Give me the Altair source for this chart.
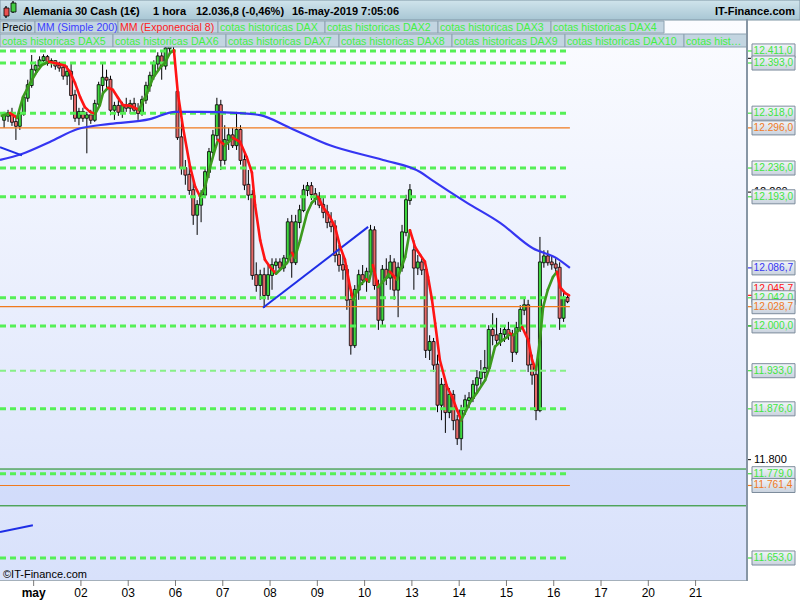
import altair as alt
import pandas as pd

# ---------------- data ----------------
# Hourly candles (12 per session), 30 Apr (partial) .. 16 May 07:00
opens = [12308, 12314, 12318, 12305, 12299, 12317, 12341, 12360,
         12383, 12389, 12397, 12402, 12393, 12396, 12389, 12386, 12374, 12380, 12345, 12311,
         12320, 12311, 12315, 12308, 12332, 12360, 12371, 12368, 12323, 12329, 12320, 12330,
         12326, 12332, 12323, 12318, 12338, 12359, 12374, 12392, 12403, 12389, 12415, 12421,
         12350, 12282, 12236, 12226, 12203, 12166, 12181, 12196, 12230, 12260, 12285, 12330,
         12248, 12278, 12285, 12270, 12293, 12248, 12211, 12196, 12076, 12061, 12076, 12046,
         12076, 12091, 12095, 12087, 12101, 12155, 12095, 12155, 12173, 12203, 12209, 12197,
         12191, 12181, 12170, 12155, 12149, 12106, 12091, 12084, 12039, 11971, 12054, 12076,
         12069, 12081, 12143, 12061, 12009, 12084, 12072, 12095, 12054, 12087, 12140, 12188,
         12113, 12087, 12095, 12084, 11964, 11976, 11942, 11882, 11912, 11871, 11897, 11859,
         11832, 11874, 11889, 11892, 11912, 11922, 11931, 11937, 11994, 11986, 11979, 11988,
         11994, 11986, 11961, 11997, 12024, 12031, 11942, 11927, 11874, 12095, 12104, 12095,
         12092, 12087, 12012, 12042]
highs = [12320, 12323, 12326, 12315, 12320, 12345, 12368, 12405,
         12395, 12403, 12406, 12405, 12400, 12397, 12395, 12392, 12389, 12393, 12353, 12326,
         12326, 12320, 12323, 12338, 12365, 12393, 12383, 12374, 12335, 12338, 12335, 12341,
         12338, 12341, 12333, 12344, 12365, 12380, 12397, 12409, 12412, 12421, 12430, 12433,
         12353, 12308, 12248, 12241, 12218, 12188, 12203, 12236, 12266, 12293, 12341, 12338,
         12300, 12296, 12296, 12320, 12300, 12263, 12233, 12203, 12095, 12084, 12087, 12091,
         12101, 12101, 12101, 12106, 12161, 12166, 12166, 12181, 12211, 12215, 12215, 12206,
         12200, 12191, 12181, 12170, 12158, 12121, 12106, 12091, 12054, 12061, 12084, 12091,
         12087, 12151, 12149, 12069, 12091, 12101, 12106, 12101, 12095, 12151, 12196, 12212,
         12128, 12106, 12101, 12091, 11986, 11982, 11957, 11922, 11919, 11907, 11904, 11867,
         11882, 11897, 11901, 11919, 11934, 11949, 11964, 12001, 12019, 12012, 11997, 12000,
         12006, 11994, 12006, 12031, 12043, 12039, 11957, 11934, 12133, 12113, 12113, 12106,
         12101, 12095, 12051, 12048]
lows = [12296, 12305, 12299, 12278, 12293, 12314, 12335, 12356,
        12375, 12383, 12392, 12389, 12386, 12383, 12380, 12368, 12360, 12338, 12305, 12300,
        12305, 12258, 12302, 12305, 12329, 12350, 12356, 12315, 12308, 12314, 12311, 12320,
        12317, 12320, 12308, 12314, 12332, 12350, 12368, 12383, 12368, 12383, 12409, 12412,
        12278, 12226, 12211, 12196, 12151, 12136, 12155, 12191, 12221, 12251, 12278, 12233,
        12241, 12263, 12266, 12263, 12241, 12203, 12188, 12069, 12051, 12039, 12027, 12039,
        12054, 12081, 12084, 12081, 12095, 12072, 12091, 12146, 12170, 12194, 12188, 12181,
        12176, 12161, 12146, 12140, 12095, 12081, 12069, 12024, 11957, 11967, 12039, 12061,
        12051, 12076, 12054, 11994, 12001, 12061, 12054, 12039, 12013, 12081, 12134, 12181,
        12054, 12076, 12076, 11952, 11949, 11931, 11871, 11859, 11840, 11862, 11844, 11822,
        11814, 11867, 11877, 11886, 11901, 11912, 11922, 11931, 11971, 11971, 11970, 11976,
        11979, 11946, 11957, 11991, 12016, 11931, 11912, 11859, 11871, 12087, 12090, 12084,
        12081, 11994, 12006, 12034]
closes = [12314, 12318, 12305, 12299, 12317, 12341, 12360, 12383,
          12389, 12397, 12402, 12393, 12396, 12389, 12386, 12374, 12380, 12345, 12311, 12320,
          12311, 12315, 12308, 12332, 12360, 12371, 12368, 12323, 12329, 12320, 12330, 12326,
          12332, 12323, 12318, 12338, 12359, 12374, 12392, 12403, 12389, 12415, 12421, 12424,
          12282, 12236, 12226, 12203, 12166, 12181, 12196, 12230, 12260, 12285, 12330, 12248,
          12278, 12285, 12270, 12293, 12248, 12211, 12196, 12076, 12061, 12076, 12046, 12076,
          12091, 12095, 12087, 12101, 12155, 12095, 12155, 12173, 12203, 12209, 12197, 12191,
          12181, 12170, 12155, 12149, 12106, 12091, 12084, 12039, 11971, 12054, 12076, 12069,
          12081, 12143, 12061, 12009, 12084, 12072, 12095, 12054, 12087, 12140, 12188, 12203,
          12087, 12095, 12084, 11964, 11976, 11942, 11882, 11912, 11871, 11897, 11859, 11832,
          11874, 11889, 11892, 11912, 11922, 11931, 11937, 11994, 11986, 11979, 11988, 11994,
          11986, 11961, 11997, 12024, 12031, 11942, 11927, 11874, 12095, 12104, 12095, 12092,
          12087, 12012, 12042, 12036.8]

BARS_PER_DAY = 12
day_labels = ["may", "02", "03", "06", "07", "08", "09", "10", "13", "14", "15", "16", "17", "20", "21"]

# Simple moving average (200) as (bar index, value)
ma200 = [(-1.04, 12248), (4.5, 12257), (11.6, 12275), (18.5, 12294), (26.9, 12302),
         (37.0, 12309), (43.4, 12320), (49.7, 12320), (59.9, 12318), (65.0, 12315),
         (72.6, 12296), (82.7, 12270), (96.2, 12248), (105.6, 12230), (108.6, 12218),
         (117.5, 12184), (125.9, 12154), (134.2, 12116), (140.3, 12101), (143.6, 12086.7)]

# Exponential moving average (8) as (bar index, value)
ema8 = [(-0.6, 12314), (1.5, 12318), (3.3, 12311), (4.8, 12342), (6.6, 12363), (8.3, 12380),
        (9.6, 12390), (11.4, 12395), (13.7, 12392), (15.5, 12389), (16.7, 12380), (18.0, 12363),
        (19.3, 12342), (20.5, 12327), (21.8, 12320), (23.1, 12317), (24.3, 12330), (25.1, 12348),
        (26.4, 12356), (27.6, 12353), (28.9, 12341), (30.2, 12330), (32.0, 12329), (33.2, 12326),
        (34.2, 12323), (36.3, 12348), (37.8, 12371), (39.6, 12386), (40.8, 12393), (42.1, 12408),
        (43.1, 12412), (44.1, 12348), (45.4, 12297), (47.2, 12238), (48.5, 12208), (49.7, 12194),
        (51.0, 12208), (52.3, 12238), (53.5, 12263), (54.3, 12278), (56.1, 12270), (58.1, 12281),
        (59.9, 12275), (61.6, 12252), (62.9, 12229), (63.7, 12181), (65.0, 12128), (66.2, 12099),
        (67.5, 12088), (69.0, 12078), (71.8, 12094), (73.1, 12109), (73.8, 12102), (75.1, 12128),
        (76.9, 12169), (78.1, 12184), (79.7, 12193), (80.9, 12178), (82.7, 12163), (84.0, 12148),
        (85.3, 12118), (86.5, 12099), (87.8, 12058), (88.6, 12039), (90.3, 12061), (91.9, 12070),
        (92.6, 12066), (93.6, 12091), (94.9, 12058), (97.2, 12073), (97.9, 12081), (99.7, 12069),
        (101.8, 12103), (103.0, 12143), (104.3, 12118), (105.6, 12106), (106.8, 12096),
        (107.6, 12073), (108.6, 12039), (109.4, 12004), (110.6, 11949), (112.4, 11909),
        (113.7, 11894), (115.0, 11874), (116.0, 11859), (118.2, 11885), (120.0, 11900),
        (122.1, 11919), (123.3, 11939), (124.6, 11969), (125.9, 11976), (127.6, 11983),
        (128.4, 11989), (129.2, 11986), (131.5, 11998), (133.0, 11979), (134.0, 11949),
        (135.0, 11934), (136.0, 11979), (136.8, 12028), (138.0, 12054), (139.3, 12073),
        (140.3, 12081), (141.1, 12058), (142.4, 12049), (143.4, 12045.7)]

# Drawn trend lines (bar index, value) -> (bar index, value)
trend_lines = [(65.7, 12027, 92.4, 12148), (-1.04, 12267, 4.54, 12255), (-1.04, 11692, 7.3, 11702)]

# Historical levels ("cotas historicas") and reference lines
green_levels = [12411, 12393, 12318, 12236, 12193, 12042, 12000, 11876, 11779, 11653]
pale_levels = [11933]
orange_levels = [12296, 12028.7, 11761.4]
zone_levels = [11786, 11731]
axis_ticks = [11800, 12000, 12200, 12400]
axis_labelled = [11800, 12200]

header_items = ["Alemania 30 Cash (1\u20ac)", "1 hora", "12.036,8 (-0,46%)", "16-may-2019 7:05:06"]
legend_row1 = ["Precio", "MM (Simple 200)", "MM (Exponencial 8)", "cotas historicas DAX",
               "cotas historicas DAX2", "cotas historicas DAX3", "cotas historicas DAX4"]
legend_row2 = ["cotas historicas DAX5", "cotas historicas DAX6", "cotas historicas DAX7",
               "cotas historicas DAX8", "cotas historicas DAX9", "cotas historicas DAX10",
               "cotas historicas DAX11"]

# ---------------- styling ----------------
W, H = 747, 560
FONT = "Liberation Sans, Arial, sans-serif"
NARROW = "Liberation Sans Narrow, Liberation Sans, Arial, sans-serif"
KIND_COLOR = {"red": "#FF1414", "blue": "#3535F2", "green": "#3FE63F", "orange": "#F07A1E"}
ORANGE = KIND_COLOR["orange"]
BLUE = KIND_COLOR["blue"]
EMA_COLOR = {"up": "#3C9A1E", "down": "#FF1414"}
LAST_BAR = len(closes) - 1
xs = alt.Scale(domain=[-1.04, 188.55], nice=False, zero=False)
ys = alt.Scale(domain=[11620.1, 12457.3], nice=False, zero=False)


def es(v, dec):
    s = f"{v:,.{dec}f}"
    return s.replace(",", "#").replace(".", ",").replace("#", ".")


def X(f):
    return alt.X(f, type="quantitative", scale=xs, axis=None)


def Y(f):
    return alt.Y(f, type="quantitative", scale=ys, axis=None)


def px(f):
    return alt.X(f, type="quantitative", scale=None, axis=None)


def py(f):
    return alt.Y(f, type="quantitative", scale=None, axis=None)


one = pd.DataFrame({"k": [0]})

# ---------------- frames ----------------
candles = pd.DataFrame({"i": list(range(len(closes))), "o": opens, "h": highs, "l": lows, "c": closes})
candles["fillc"] = ["#3ED63E" if c >= o else "#E56A6A" for o, c in zip(opens, closes)]
candles["lo"] = candles[["o", "c"]].min(axis=1) - 0.6
candles["hi"] = candles[["o", "c"]].max(axis=1) + 0.6
candles["bl"] = candles["i"] - 0.38
candles["br"] = candles["i"] + 0.38

ma_df = pd.DataFrame(ma200, columns=["i", "v"])
seg = []
for (a, va), (b, vb) in zip(ema8[:-1], ema8[1:]):
    seg.append({"i": a, "v": va, "i2": b, "v2": vb, "col": EMA_COLOR["down" if vb < va else "up"]})
ema_df = pd.DataFrame(seg)
trend_df = pd.DataFrame(trend_lines, columns=["i", "v", "i2", "v2"])

# price tags on the right; the EMA tag sits a few pixels higher
# so that it peeks out above the neighbouring level tag
levels = (
    [{"v": ema8[-1][1], "kind": "red", "nudge": -6}, {"v": ma200[-1][1], "kind": "blue", "nudge": 0}]
    + [{"v": v, "kind": "green", "nudge": 0} for v in green_levels + pale_levels]
    + [{"v": v, "kind": "orange", "nudge": 0} for v in orange_levels]
)
lev_df = pd.DataFrame(levels)
lev_df["txt"] = [es(v, 1) for v in lev_df["v"]]
lev_df["col"] = [KIND_COLOR[k] for k in lev_df["kind"]]

days = pd.DataFrame({"i": [7.5 + BARS_PER_DAY * d for d in range(len(day_labels))], "lab": day_labels})

ticks_df = pd.DataFrame({"v": axis_ticks})
tick_lab_df = pd.DataFrame({"v": axis_labelled, "txt": [es(v, 0) for v in axis_labelled]})


def legend_cells(labels, edges, colors, y0, y1):
    rows = []
    for lab, a, b, col in zip(labels, edges[:-1], edges[1:], colors):
        rows.append({"lab": lab, "x0": a, "x1": b, "tx": a + 2, "y0": y0, "y1": y1, "col": col})
    return rows


row1_edges = [0, 35, 118, 218, 325, 438, 551, 664]
row2_edges = [0, 113, 226, 339, 452, 565, 684, 747]
cells = pd.DataFrame(
    legend_cells(legend_row1, row1_edges, ["#000000", "#3C3CFF", "#FF2020"] + ["#44F044"] * 4, 1, 13)
    + legend_cells(legend_row2, row2_edges, ["#44F044"] * 7, 14, 27)
)
cells_full = cells.iloc[:-1]
cells_last = cells.iloc[-1:]

# ---------------- layers ----------------
bg = alt.Chart(one).mark_rect(
    fill=alt.Gradient(gradient="linear", x1=0, x2=0, y1=0, y2=1,
                      stops=[alt.GradientStop(color="#FBFCFF", offset=0),
                             alt.GradientStop(color="#D8E1FB", offset=1)])
).encode(x=alt.value(0), x2=alt.value(W), y=alt.value(0), y2=alt.value(H))

zone = alt.Chart(pd.DataFrame({"a": [zone_levels[0]], "b": [zone_levels[1]]})).mark_rect(
    fill="#C9D6FA", opacity=0.55).encode(x=alt.value(0), x2=alt.value(W), y=Y("a"), y2="b")
zone_lines = alt.Chart(pd.DataFrame({"v": zone_levels})).mark_rule(
    color="#128A12", strokeWidth=1).encode(x=alt.value(0), x2=alt.value(W), y=Y("v"))

wicks = alt.Chart(candles).mark_rule(color="#000000", strokeWidth=1).encode(x=X("i"), y=Y("l"), y2="h")
bodies = alt.Chart(candles).mark_rect(stroke="#000000", strokeWidth=0.8).encode(
    x=X("bl"), x2="br", y=Y("lo"), y2="hi", fill=alt.Fill("fillc:N", scale=None))

# level lines run from the left edge up to the last bar
span = {"a": -1.04, "b": LAST_BAR + 0.6}
orange_lines = alt.Chart(pd.DataFrame({"v": orange_levels, **span})).mark_rule(
    color=ORANGE, strokeWidth=1.2).encode(x=X("a"), x2="b", y=Y("v"))
green_lines = alt.Chart(pd.DataFrame({"v": green_levels, **span})).mark_rule(
    color="#55F055", strokeWidth=3, strokeDash=[6, 4]).encode(x=X("a"), x2="b", y=Y("v"))
pale_lines = alt.Chart(pd.DataFrame({"v": pale_levels, **span})).mark_rule(
    color="#86F086", strokeWidth=2, strokeDash=[6, 4]).encode(x=X("a"), x2="b", y=Y("v"))

ma_line = alt.Chart(ma_df).mark_line(color=BLUE, strokeWidth=2.2, interpolate="monotone").encode(
    x=X("i"), y=Y("v"), order="i:Q")
trends = alt.Chart(trend_df).mark_rule(color="#1E2EE6", strokeWidth=2).encode(
    x=X("i"), x2="i2", y=Y("v"), y2="v2")
ema_line = alt.Chart(ema_df).mark_rule(strokeWidth=2.6, strokeCap="round").encode(
    x=X("i"), x2="i2", y=Y("v"), y2="v2", color=alt.Color("col:N", scale=None))

# header strip
header_bg = alt.Chart(one).mark_rect(
    fill=alt.Gradient(gradient="linear", x1=0, x2=0, y1=0, y2=1,
                      stops=[alt.GradientStop(color="#D0E4EC", offset=0),
                             alt.GradientStop(color="#A8C6D4", offset=1)]),
    stroke="#7F95A4", strokeWidth=1
).encode(x=alt.value(0), x2=alt.value(800), y=alt.value(-20), y2=alt.value(0))
header_pos = [23, 153, 196, 292]
header_txt = alt.Chart(pd.DataFrame({"t": header_items, "x": header_pos})).mark_text(
    align="left", baseline="alphabetic", font=FONT, fontSize=11, fontWeight="bold", color="#000000"
).encode(x=px("x"), y=alt.value(-5), text="t:N")
brand = alt.Chart(pd.DataFrame({"t": ["IT-Finance.com"]})).mark_text(
    align="right", baseline="alphabetic", font=FONT, fontSize=11, fontWeight="bold", color="#000000"
).encode(x=alt.value(795), y=alt.value(-5), text="t:N")
icon = alt.Chart(pd.DataFrame({
    "x0": [6, 13, 4, 11], "x1": [6, 13, 9, 16], "y0": [-14, -19, -12, -17], "y1": [-2, -7, -4, -8],
    "c": ["#000000", "#000000", "#E85050", "#44CC44"]})).mark_rect(stroke="#000000", strokeWidth=0.8).encode(
    x=px("x0"), x2="x1", y=py("y0"), y2="y1", fill=alt.Fill("c:N", scale=None))

cell_rects = alt.Chart(cells).mark_rect(fill="#C3D5E1", stroke="#8EA3B2", strokeWidth=1).encode(
    x=px("x0"), x2="x1", y=py("y0"), y2="y1")
cell_text = alt.Chart(cells_full).mark_text(
    align="left", baseline="alphabetic", font=FONT, fontSize=10.6, dy=-2
).encode(x=px("tx"), y=py("y1"), text="lab:N", color=alt.Color("col:N", scale=None))
cell_text_last = alt.Chart(cells_last).mark_text(
    align="left", baseline="alphabetic", font=FONT, fontSize=10.6, dy=-2, limit=61, ellipsis=""
).encode(x=px("tx"), y=py("y1"), text="lab:N", color=alt.Color("col:N", scale=None))

# right price axis
tick_lines = alt.Chart(ticks_df).mark_rule(color="#000000").encode(
    x=alt.value(W), x2=alt.value(W + 4), y=Y("v"))
tick_text = alt.Chart(tick_lab_df).mark_text(
    align="left", baseline="middle", font=FONT, fontSize=11, color="#000000").encode(
    x=alt.value(W + 7), y=Y("v"), text="txt:N")
lev_ticks = alt.Chart(lev_df).mark_rule(strokeWidth=1.2).encode(
    x=alt.value(W), x2=alt.value(W + 5), y=Y("v"), color=alt.Color("col:N", scale=None))

box_layers = []
for _, r in lev_df.iterrows():
    d = pd.DataFrame([r])
    d["top"] = d["v"] + 10.5
    d["bot"] = d["v"] - 10.5
    nudge = float(r["nudge"])
    box = alt.Chart(d).mark_rect(
        fill=alt.Gradient(gradient="linear", x1=0, x2=0, y1=0, y2=1,
                          stops=[alt.GradientStop(color="#F2F5F9", offset=0),
                                 alt.GradientStop(color="#C9D2DE", offset=1)]),
        stroke="#7D8C9C", strokeWidth=1, yOffset=nudge).encode(
        x=alt.value(W + 5), x2=alt.value(W + 48), y=Y("top"), y2="bot")
    txt = alt.Chart(d).mark_text(align="left", baseline="middle", font=FONT, fontSize=10.2, dy=nudge).encode(
        x=alt.value(W + 6.5), y=Y("v"), text="txt:N", color=alt.Color("col:N", scale=None))
    box_layers += [box, txt]

# time axis
day_ticks = alt.Chart(days).mark_rule(color="#7A7A7A").encode(
    x=X("i"), y=alt.value(H), y2=alt.value(H + 6))
day_text_first = alt.Chart(days.iloc[:1]).mark_text(
    align="center", baseline="alphabetic", font=NARROW, fontSize=12, fontWeight="bold",
    color="#000000").encode(x=X("i"), y=alt.value(H + 17), text="lab:N")
day_text = alt.Chart(days.iloc[1:]).mark_text(
    align="center", baseline="alphabetic", font=NARROW, fontSize=12, color="#000000").encode(
    x=X("i"), y=alt.value(H + 17), text="lab:N")

copyright_txt = alt.Chart(pd.DataFrame({"t": ["\u00a9IT-Finance.com"]})).mark_text(
    align="left", baseline="alphabetic", font=FONT, fontSize=11, color="#000000").encode(
    x=alt.value(3), y=alt.value(H - 2), text="t:N")

right_border = alt.Chart(one).mark_rule(color="#8796A5", strokeWidth=2).encode(
    x=alt.value(W), y=alt.value(-1), y2=alt.value(H + 1))

chart = alt.layer(
    bg, zone, zone_lines, wicks, bodies, orange_lines, green_lines, pale_lines, ma_line, trends, ema_line,
    cell_rects, cell_text, cell_text_last, header_bg, icon, header_txt, brand,
    tick_lines, tick_text, lev_ticks, *box_layers,
    day_ticks, day_text_first, day_text, copyright_txt, right_border
).properties(
    width=W, height=H,
    padding={"left": 0, "top": 20, "right": 53, "bottom": 20},
    autosize=alt.AutoSizeParams(type="none"),
    background="#FFFFFF",
).configure_view(stroke="#8796A5", strokeWidth=1.5)

chart.save("out.html", embed_options={"renderer": "svg", "actions": False})
